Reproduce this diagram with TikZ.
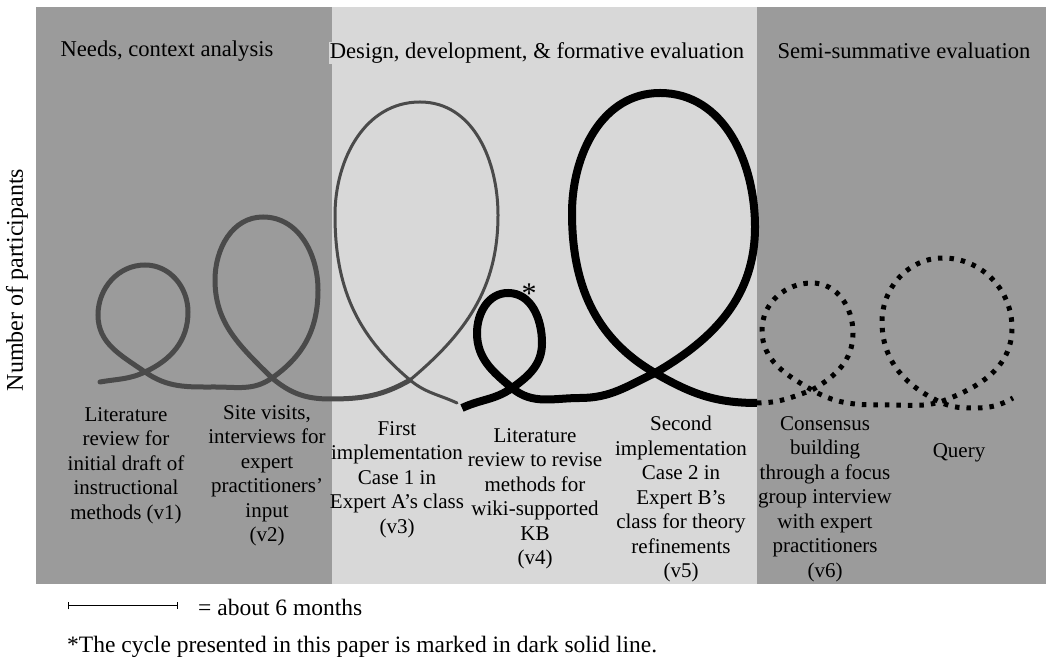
\documentclass[tikz,border=0pt]{standalone}
\usepackage{fontspec}
\setmainfont{Liberation Serif}
\usetikzlibrary{arrows.meta}
\definecolor{darkpanel}{RGB}{155,155,155}
\definecolor{lightpanel}{RGB}{216,216,216}
\definecolor{brushgray}{RGB}{74,74,74}
\tikzset{
  txt/.style={inner sep=1pt, font=\fontsize{22.6}{26}\selectfont},
  foot/.style={inner sep=1pt, anchor=west, font=\fontsize{23.5}{26}\selectfont},
  lbl/.style={align=center, inner sep=0pt, anchor=north, font=\fontsize{21}{24.5}\selectfont},
  brush/.style={draw=brushgray, line width=5pt, line cap=round},
  thinbrush/.style={draw=brushgray, line width=3pt, line cap=round},
  solidcycle/.style={draw=black, line width=8pt},
  dotcycle/.style={draw=black, line width=5pt, dash pattern=on 4.5pt off 7pt}
}
\begin{document}
\begin{tikzpicture}[x=1pt,y=1pt]
	\useasboundingbox (0,0) rectangle (1046,663);
	\fill[white] (0,0) rectangle (1046,663);
	% phases
	\fill[darkpanel] (36,79) rectangle (332,656);
	\fill[lightpanel] (332,79) rectangle (757,656);
	\fill[darkpanel] (757,79) rectangle (1046,656);
	\node[txt] (needs) at (167,612) {Needs, context analysis};
	\node[txt, fill=lightpanel] (design) at (537,610) {Design, development, \& formative evaluation};
	\node[txt] (semi) at (904,612) {Semi-summative evaluation};
	\node[txt, rotate=90, font=\fontsize{24}{26}\selectfont] (ylabel) at (17,383) {Number of participants};
	% earlier cycles (gray)
	\draw[brush] (100,281) to[out=10,in=205] (145,291) to[out=25,in=-90] (188,351) to[out=90,in=0] (145,398)
		to[out=180,in=90] (98,348) to[out=-90,in=145] (145,291) to[out=-35,in=180] (215,276)
		to[out=0,in=215] (272,285) to[out=35,in=-90] (318,373) to[out=90,in=0] (263,446)
		to[out=180,in=90] (215,383) to[out=-90,in=135] (272,285) to[out=-40,in=180] (330,264)
		to[out=0,in=210] (410,283);
	\draw[thinbrush] (410,283) to[out=40,in=-90] (498,448) to[out=90,in=0] (420,561)
		to[out=180,in=90] (335,448) to[out=-90,in=140] (410,283) to[out=-40,in=155] (457,260);
	% presented cycle (black)
	\draw[solidcycle] (462,255) to[out=25,in=215] (512,275) to[out=35,in=-90] (542,320) to[out=90,in=0] (508,370)
		to[out=180,in=90] (477,330) to[out=-90,in=140] (512,275) to[out=-40,in=180] (580,265)
		to[out=0,in=205] (655,290) to[out=30,in=-90] (755,436) to[out=90,in=0] (660,570)
		to[out=180,in=90] (572,450) to[out=-90,in=150] (655,290) to[out=-30,in=180] (757,260);
	\node[txt, font=\fontsize{30}{30}\selectfont] (star) at (529,369) {*};
	% later cycles (dotted)
	\draw[dotcycle] (757,260) to[out=0,in=200] (812,273) to[out=30,in=-90] (853,330) to[out=90,in=0] (812,380)
		to[out=180,in=90] (762,333) to[out=-90,in=150] (812,273) to[out=-30,in=180] (890,258)
		to[out=0,in=195] (940,261) to[out=20,in=-90] (1012,335) to[out=90,in=0] (943,405)
		to[out=180,in=90] (882,341) to[out=-90,in=155] (940,261) to[out=-25,in=180] (975,255)
		to[out=0,in=210] (1013,265);
	% labels
	\node[lbl] (v1) at (126,256) {Literature\\review for\\initial draft of\\instructional\\methods (v1)};
	\node[lbl] (v2) at (267,258) {Site visits,\\interviews for\\expert\\practitioners’\\input\\(v2)};
	\node[lbl] (v3) at (397,242) {First\\implementation\\Case 1 in\\Expert A’s class\\(v3)};
	\node[lbl] (v4) at (535,235) {Literature\\review to revise\\methods for\\wiki-supported\\KB\\(v4)};
	\node[lbl] (v5) at (681,247) {Second\\implementation\\Case 2 in\\Expert B’s\\class for theory\\refinements\\(v5)};
	\node[lbl] (v6) at (825,247) {Consensus\\building\\through a focus\\group interview\\with expert\\practitioners\\(v6)};
	\node[lbl] (query) at (959,220) {Query};
	% scale and note
	\coordinate (barL) at (68,57);
	\coordinate (barR) at (178,57);
	\draw[{Bar[width=7pt]}-{Bar[width=7pt]}, line width=1pt] (barL) -- (barR);
	\node[foot] (months) at (197,56) {= about 6 months};
	\node[foot] (note) at (66,16) {*The cycle presented in this paper is marked in dark solid line.};
\end{tikzpicture}
\end{document}
